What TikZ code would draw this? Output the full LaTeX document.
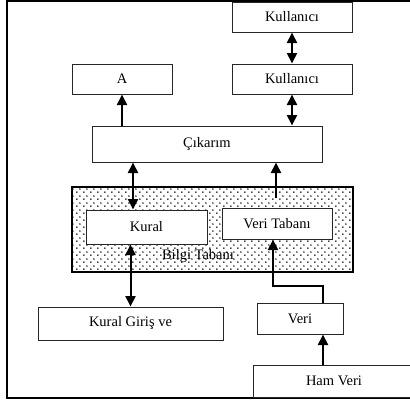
\documentclass[tikz,border=0pt]{standalone}
\usepackage{fontspec}
\setmainfont{Liberation Serif}
\usetikzlibrary{arrows.meta,patterns.meta}
\tikzdeclarepattern{
  name=bdots,
  type=uncolored,
  bottom left={(-1pt,-1pt)},
  top right={(6pt,6pt)},
  tile size={(7pt,7pt)},
  code={\fill (0pt,0pt) circle (0.9pt); \fill (3.5pt,3.5pt) circle (0.9pt);}
}
\tikzset{
  box/.style={draw=black!85, line width=1pt, fill=white, rectangle, inner sep=0pt,
    font=\fontsize{14.5}{16}\selectfont},
  conn/.style={line width=2pt, -{Triangle[length=10.5pt,width=10pt]}},
  dconn/.style={line width=2pt, {Triangle[length=10.5pt,width=10pt]}-{Triangle[length=10.5pt,width=10pt]}},
}
\begin{document}
\begin{tikzpicture}[x=1pt,y=-1pt]
\useasboundingbox (0,0) rectangle (410,402);
\clip (0,0) rectangle (410,402);
% outer frame
\draw[line width=2pt] (7,1) rectangle (415,398);
% knowledge base
\node[draw=black, line width=2.8pt, pattern={bdots}, pattern color=black, minimum width=281pt, minimum height=85pt, inner sep=0pt] (bt) at (212.5,229.5) {};
\node[font=\fontsize{14.5}{16}\selectfont] (btl) at (198,256) {Bilgi Tabanı};
% boxes
\node[box, minimum width=120pt, minimum height=30pt] (ku1) at (292,17) {Kullanıcı};
\node[box, minimum width=120pt, minimum height=30pt] (ku2) at (292,79) {Kullanıcı};
\node[box, minimum width=100pt, minimum height=30pt] (a) at (122,79) {A};
\node[box, minimum width=230pt, minimum height=36pt] (cik) at (207,144) {Çıkarım};
\node[box, minimum width=121pt, minimum height=34pt] (kural) at (146.5,227) {Kural};
\node[box, minimum width=110pt, minimum height=31pt] (vt) at (277,223.5) {Veri Tabanı};
\node[box, minimum width=185pt, minimum height=33pt] (kg) at (130.5,323.5) {Kural Giriş ve};
\node[box, minimum width=86pt, minimum height=31pt] (veri) at (300,318.5) {Veri};
\node[box, minimum width=162pt, minimum height=32pt] (ham) at (334,381) {Ham Veri};
% helper coordinates
\coordinate (vtup) at (276,198);
\coordinate (bend1) at (323,286);
\coordinate (bend2) at (273,286);
% connectors
\draw[dconn] (ku1.south) -- (ku2.north);
\draw[dconn] (ku2.south) -- (ku2.south |- cik.north);
\draw[conn] (a.south |- cik.north) -- (a.south);
\draw[dconn] (cik.south -| 133,0) -- (kural.north -| 133,0);
\draw[conn] (vtup) -- (cik.south -| vtup);
\draw[dconn] (kural.south -| kg.north) -- (kg.north);
\draw[conn] (veri.north -| bend1) -- (bend1) -- (bend2) -- (vt.south -| bend2);
\draw[conn] (ham.north -| bend1) -- (veri.south -| bend1);
\end{tikzpicture}
\end{document}
